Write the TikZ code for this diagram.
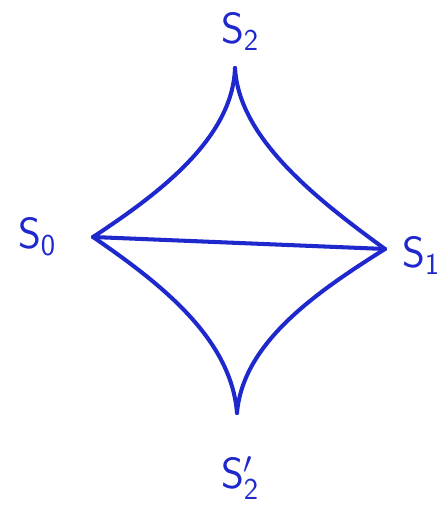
\documentclass[tikz,border=0pt]{standalone}
\usetikzlibrary{positioning}
\definecolor{pen}{RGB}{30,40,205}
\tikzset{
    edge/.style={pen, line width=2.3pt, line cap=round, line join=round},
    lbl/.style={pen, font=\fontsize{26}{30}\selectfont, inner sep=1pt}
}

\begin{document}
\begin{tikzpicture}
    \useasboundingbox (0, 0) rectangle (8.84, 10.16);

    \coordinate (s2) at (4.70, 8.80);
    \coordinate (s0) at (1.86, 5.42);
    \coordinate (s1) at (7.70, 5.18);
    \coordinate (s2p) at (4.74, 1.90);

    \node[lbl] (l2) at (4.80, 9.52) {$\mathsf{S}_\mathsf{2}$};
    \node[lbl] (l0) at (0.74, 5.42) {$\mathsf{S}_\mathsf{0}$};
    \node[lbl] (l1) at (8.42, 5.04) {$\mathsf{S}_\mathsf{1}$};
    \node[lbl] (l2p) at (4.80, 0.60) {$\mathsf{S}_\mathsf{2}'$};

    \draw[edge] (s2) .. controls (4.65, 7.4) and (3.2, 6.3) .. (s0);
    \draw[edge] (s2) .. controls (4.78, 7.4) and (6.3, 6.2) .. (s1);
    \draw[edge] (s0) .. controls (3.2, 4.5) and (4.62, 3.4) .. (s2p);
    \draw[edge] (s1) .. controls (6.3, 4.3) and (4.86, 3.3) .. (s2p);
    \draw[edge] (s0) -- (s1);
\end{tikzpicture}
\end{document}
